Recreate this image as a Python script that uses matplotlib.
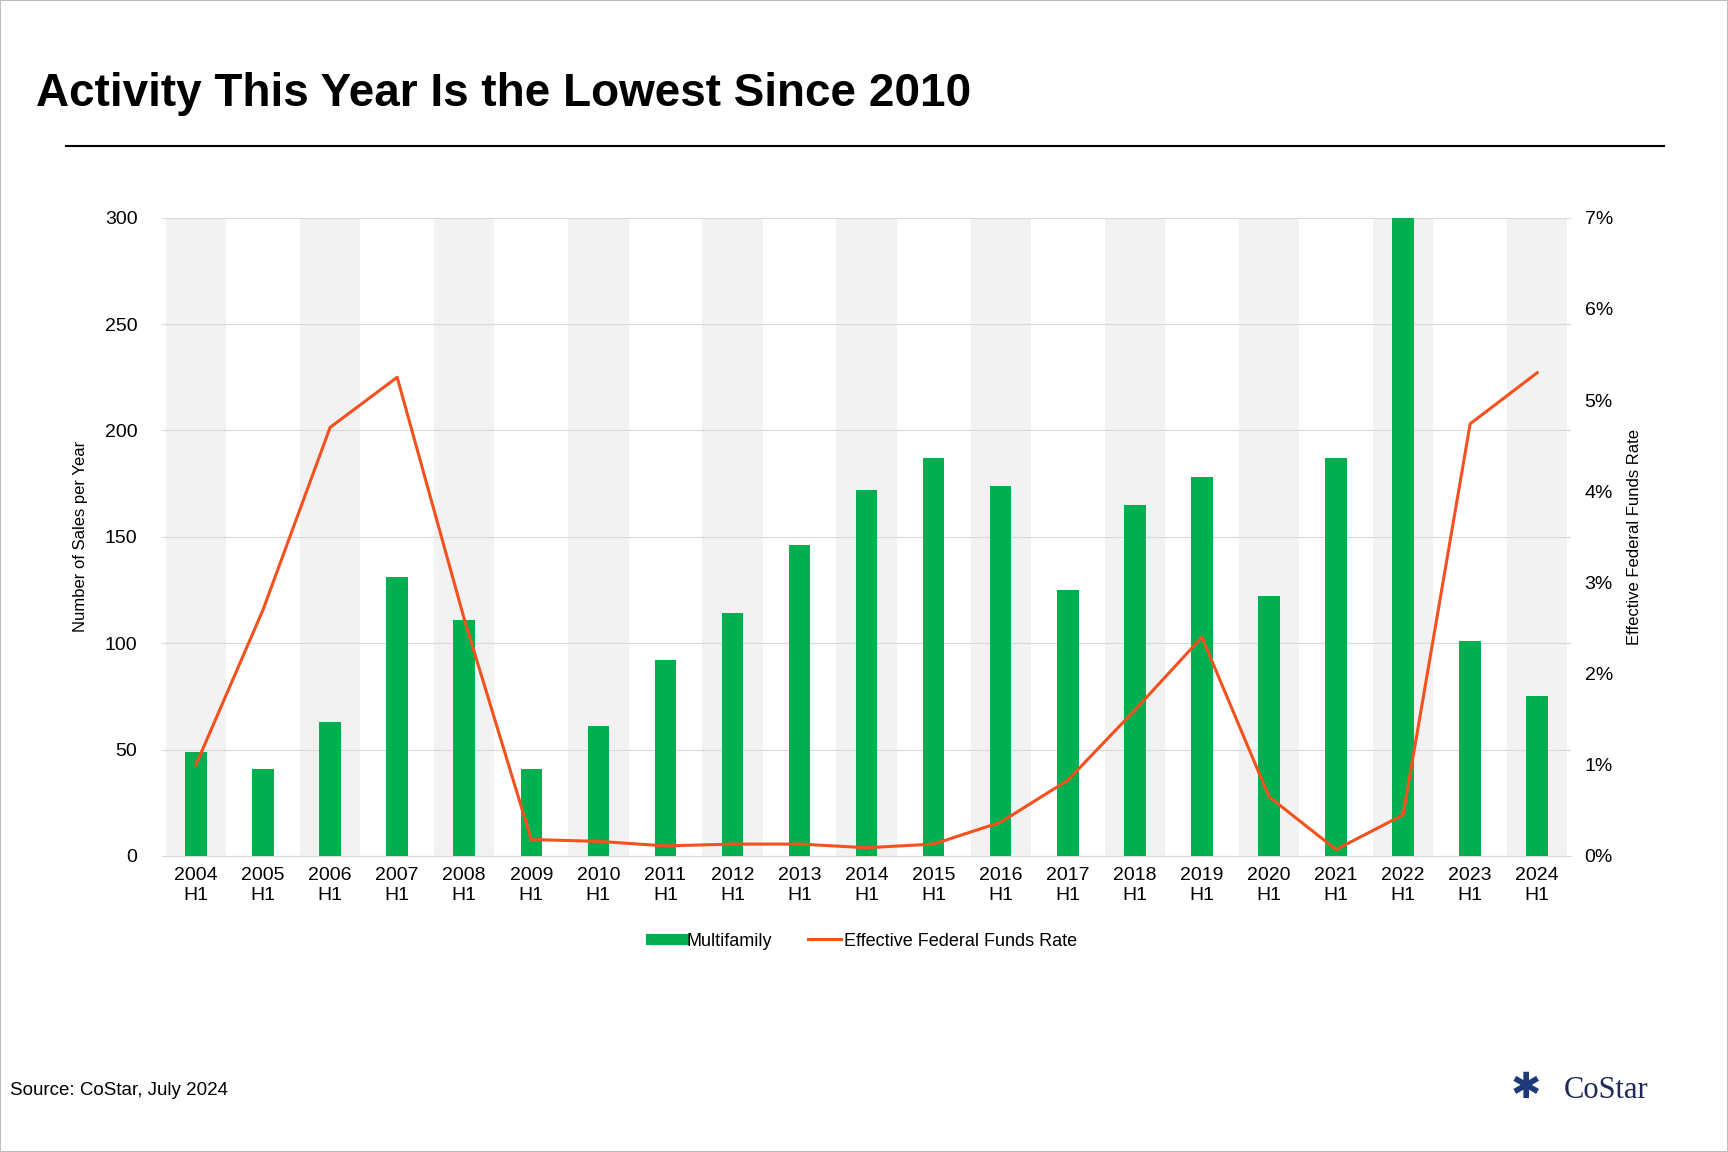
import matplotlib.pyplot as plt
import numpy as np
from matplotlib.lines import Line2D

years = ["2004", "2005", "2006", "2007", "2008", "2009", "2010", "2011", "2012", "2013", "2014",
         "2015", "2016", "2017", "2018", "2019", "2020", "2021", "2022", "2023", "2024"]
sales = [49, 41, 63, 131, 111, 41, 61, 92, 114, 146, 172, 187, 174, 125, 165, 178, 122, 187, 300, 101, 75]
fed_rate = [1.0, 2.7, 4.7, 5.25, 2.6, 0.18, 0.16, 0.11, 0.13, 0.13, 0.09, 0.13, 0.37, 0.83, 1.6, 2.4,
            0.65, 0.07, 0.45, 4.74, 5.3]

plt.rcParams['font.family'] = ['Liberation Sans', 'DejaVu Sans']
GREEN = "#00b050"
ORANGE = "#f4511e"

fig = plt.figure(figsize=(17.28, 11.52), dpi=100)
ax = fig.add_axes([0.094, 0.257, 0.815, 0.554])
x = np.arange(len(years))

for i in x[::2]:
    ax.axvspan(i - 0.45, i + 0.45, color="#f2f2f2", zorder=0, lw=0)
ax.bar(x, sales, width=0.32, color=GREEN, zorder=3)
ax.set_ylim(0, 300)
ax.set_xlim(-0.5, len(years) - 0.5)
ax.set_yticks(range(0, 301, 50))
ax.yaxis.grid(True, color="#d9d9d9", lw=0.8, zorder=1)
ax.set_xticks(x)
ax.set_xticklabels([f"{y}\nH1" for y in years], fontsize=14)
ax.tick_params(axis="y", labelsize=14, length=0, pad=18)
ax.tick_params(axis="x", length=0, pad=8)
for s in ax.spines.values():
    s.set_visible(False)
ax.spines["bottom"].set_visible(True)
ax.spines["bottom"].set_color("#d9d9d9")
ax.set_ylabel("Number of Sales per Year", fontsize=12, labelpad=12)

ax2 = ax.twinx()
ax2.plot(x, fed_rate, color=ORANGE, lw=2.2, zorder=4)
ax2.set_ylim(0, 7)
ax2.set_yticks(range(0, 8))
ax2.set_yticklabels([f"{v}%" for v in range(0, 8)])
ax2.tick_params(axis="y", labelsize=14, length=0, pad=10)
for s in ax2.spines.values():
    s.set_visible(False)
ax2.set_ylabel("Effective Federal Funds Rate", fontsize=12, labelpad=10)

handles = [Line2D([], [], color=GREEN, lw=8), Line2D([], [], color=ORANGE, lw=2.2)]
fig.legend(handles, ["Multifamily", "Effective Federal Funds Rate"], loc="center",
           bbox_to_anchor=(0.5, 0.183), ncol=2, frameon=False, fontsize=13,
           handlelength=1.8, handletextpad=0.2, columnspacing=2)

fig.text(0.021, 0.918, "Activity This Year Is the Lowest Since 2010", fontsize=33,
         fontweight="bold", va="center")
fig.add_artist(Line2D([0.038, 0.963], [0.873, 0.873], color="black", lw=1.5))
fig.text(0.006, 0.053, "Source: CoStar, July 2024", fontsize=13.5, va="center")
fig.text(0.905, 0.053, "CoStar", fontsize=22, va="center", color="#1f2a5a", family="Liberation Serif")
fig.text(0.883, 0.055, "✱", fontsize=26, va="center", ha="center", color="#1f3a7a")
fig.add_artist(plt.Rectangle((0, 0), 1, 1, fill=False, ec="#bfbfbf", lw=1.5, transform=fig.transFigure))

fig.savefig("out.png", dpi=100)
